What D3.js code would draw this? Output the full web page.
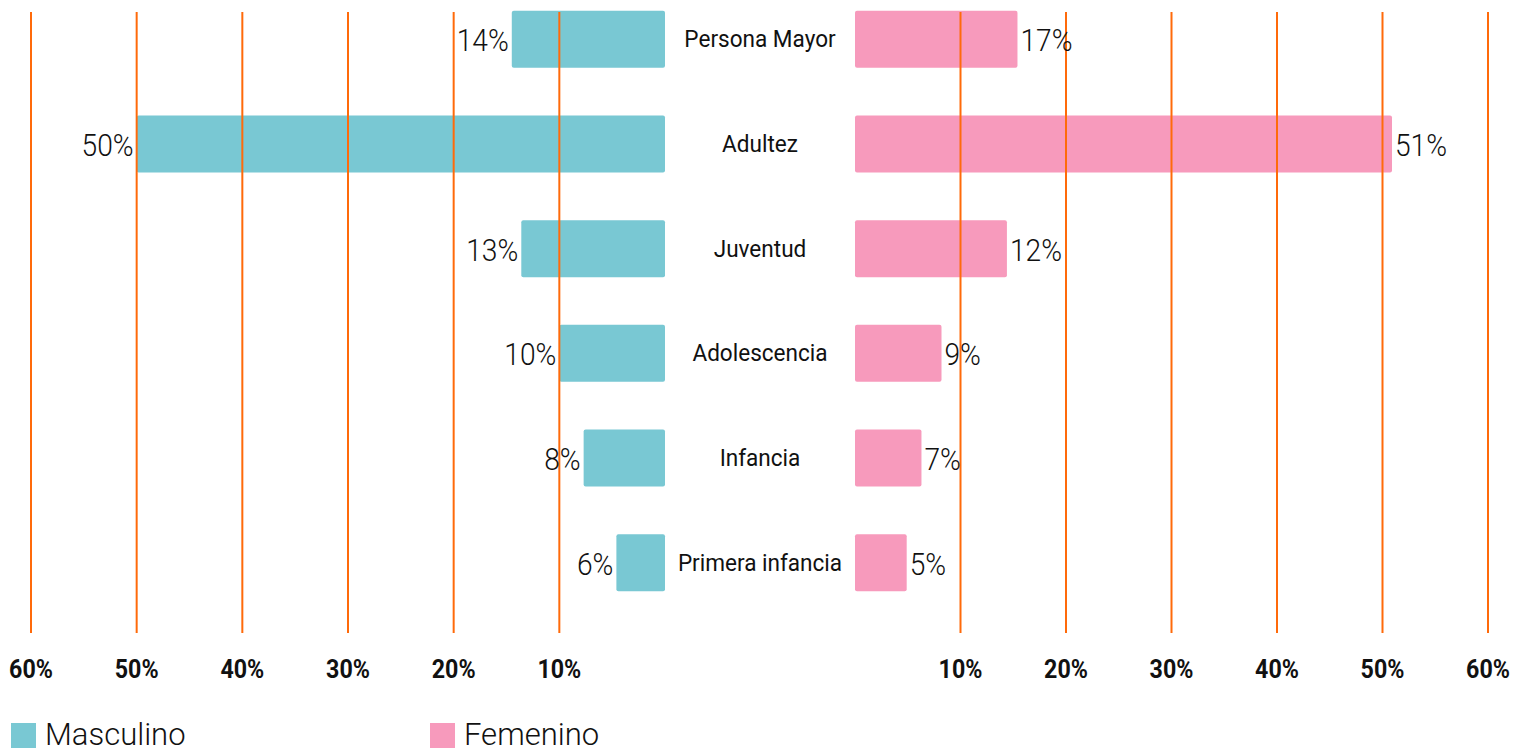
<!DOCTYPE html>
<html>
<head>
<meta charset="utf-8">
<script src="https://cdn.jsdelivr.net/npm/d3@7"></script>
<style>
  html, body { margin: 0; padding: 0; background: #fff; }
  svg { display: block; font-family: Roboto, "Noto Sans", sans-serif; }
</style>
</head>
<body>
<div id="container"></div>
<script>
// data
const categories = ["Persona Mayor", "Adultez", "Juventud", "Adolescencia", "Infancia", "Primera infancia"];
const masculino = [0.145, 0.50, 0.136, 0.10, 0.077, 0.046];
const femenino = [0.154, 0.509, 0.144, 0.082, 0.063, 0.049];
const masculinoLabels = ["14%", "50%", "13%", "10%", "8%", "6%"];
const femeninoLabels = ["17%", "51%", "12%", "9%", "7%", "5%"];
const tickValues = [0.1, 0.2, 0.3, 0.4, 0.5, 0.6];
const seriesNames = ["Masculino", "Femenino"];

const width = 1513, height = 748;
const teal = "#79C8D3", pink = "#F79ABC", orange = "#FF6A0A";

const svg = d3.select("#container").append("svg")
    .attr("width", width)
    .attr("height", height)
    .attr("viewBox", [0, 0, width, height]);

const xLeft = d3.scaleLinear().domain([0, 0.6]).range([665, 31]);
const xRight = d3.scaleLinear().domain([0, 0.6]).range([855, 1488]);
const y = d3.scaleBand()
    .domain(categories)
    .range([-13, 615])
    .paddingInner(0.455)
    .paddingOuter(0.2275);

// condensed-looking text helper
function ctext(g, x, yy, str, opts) {
    return g.append("text")
        .attr("transform", `translate(${x},${yy}) scale(${opts.sx},1)`)
        .attr("text-anchor", opts.anchor || "start")
        .attr("font-size", opts.size)
        .attr("font-weight", opts.weight || 400)
        .attr("fill", opts.fill || "#111")
        .text(str);
}

// bars
svg.append("g").selectAll("rect")
    .data(categories)
    .join("rect")
    .attr("x", (d, i) => xLeft(masculino[i]))
    .attr("y", d => y(d))
    .attr("width", (d, i) => xLeft(0) - xLeft(masculino[i]))
    .attr("height", y.bandwidth())
    .attr("rx", 2)
    .attr("fill", teal);

svg.append("g").selectAll("rect")
    .data(categories)
    .join("rect")
    .attr("x", xRight(0))
    .attr("y", d => y(d))
    .attr("width", (d, i) => xRight(femenino[i]) - xRight(0))
    .attr("height", y.bandwidth())
    .attr("rx", 2)
    .attr("fill", pink);

// gridlines drawn on top of the bars
const grid = svg.append("g");
tickValues.forEach(t => {
    [xLeft(t), xRight(t)].forEach(x => {
        grid.append("line")
            .attr("x1", x).attr("x2", x)
            .attr("y1", 12).attr("y2", 633)
            .attr("stroke", orange)
            .attr("stroke-width", 2);
    });
});

// tick labels
const ticksG = svg.append("g");
tickValues.forEach(t => {
    const s = d3.format(".0%")(t);
    ctext(ticksG, xLeft(t), 678, s, {size: 25, weight: 700, sx: 0.93, anchor: "middle"});
    ctext(ticksG, xRight(t), 678, s, {size: 25, weight: 700, sx: 0.93, anchor: "middle"});
});

// category labels
const catG = svg.append("g");
categories.forEach(c => {
    ctext(catG, 760, y(c) + y.bandwidth() / 2 + 8, c, {size: 24, weight: 400, sx: 0.94, anchor: "middle"});
});

// value labels
const valG = svg.append("g");
categories.forEach((c, i) => {
    const cy = y(c) + y.bandwidth() / 2 + 12;
    ctext(valG, xLeft(masculino[i]) - 3, cy, masculinoLabels[i], {size: 32, weight: 300, sx: 0.88, anchor: "end"});
    ctext(valG, xRight(femenino[i]) + 3, cy, femeninoLabels[i], {size: 32, weight: 300, sx: 0.88, anchor: "start"});
});

// legend
const legend = svg.append("g");
[[11, teal], [430, pink]].forEach(([x, col], i) => {
    legend.append("rect")
        .attr("x", x).attr("y", 723)
        .attr("width", 25).attr("height", 25)
        .attr("fill", col);
    ctext(legend, x + 34, 745, seriesNames[i], {size: 31, weight: 300, sx: 1.0});
});
</script>
</body>
</html>
